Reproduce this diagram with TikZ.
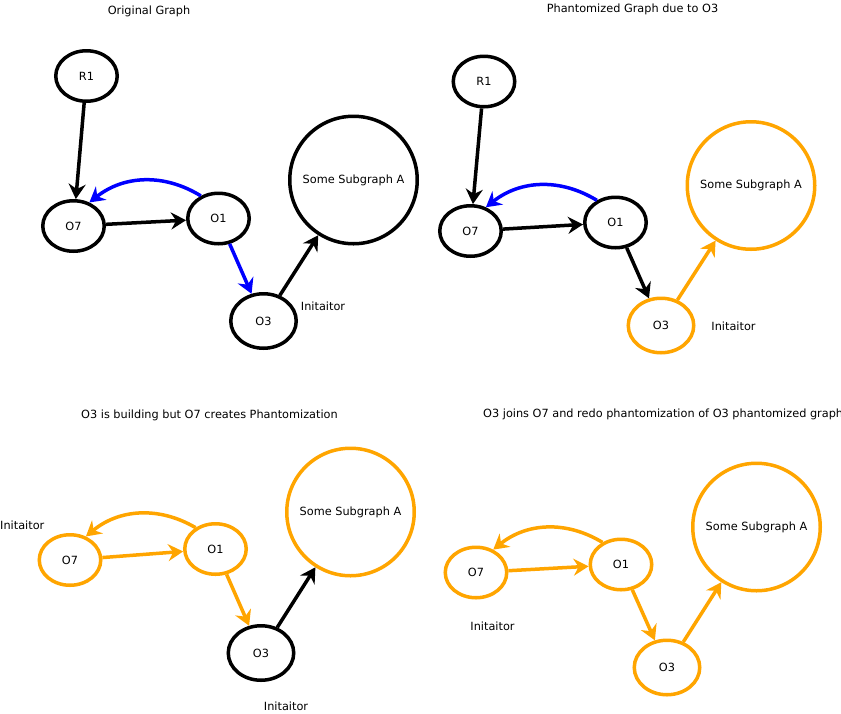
\documentclass[tikz,border=0pt]{standalone}
\usepackage{fontspec}
\setmainfont{DejaVu Sans}
\usetikzlibrary{arrows.meta,shapes.geometric}
\definecolor{phant}{HTML}{FFA500}
\definecolor{blu}{HTML}{0000FF}
\begin{document}
\begin{tikzpicture}[x=1pt,y=-1pt,
  every node/.style={font=\fontsize{11.3}{13}\selectfont, inner sep=0pt},
  op/.style={ellipse, draw, line width=3.5pt, minimum width=61.5pt, minimum height=50.5pt},
  opbig/.style={op, minimum width=65.5pt, minimum height=54.5pt},
  sub/.style={circle, draw, line width=3.5pt, minimum size=127.5pt},
  link/.style={line width=3.5pt, line join=miter,
    -{Stealth[length=15pt,width=17pt,inset=5pt]}},
  curv/.style={link, bend right=35},
  lbl/.style={}]
\clip (0,0) rectangle (841,713);
\fill[white] (0,0) rectangle (841,713);

% ---------- panel 1: original graph ----------
\node[lbl] (t1) at (149,11) {Original Graph};
\node[op] (a-r1) at (86.5,76) {R1};
\node[op] (a-o7) at (73.5,226) {O7};
\node[op] (a-o1) at (218.5,218.5) {O1};
\node[opbig] (a-o3) at (263.5,321) {O3};
\node[sub] (a-s) at (353.5,180) {Some Subgraph A};
\node[lbl] (a-i) at (323,306) {Initaitor};
\draw[link] (a-r1) -- (a-o7);
\draw[link] (a-o7) -- (a-o1);
\draw[link, blu] (a-o1) -- (a-o3);
\draw[link] (a-o3) -- (a-s);
\draw[curv, blu] (a-o1.128) to (a-o7.56);

% ---------- panel 2: phantomized graph ----------
\node[lbl] (t2) at (632.5,9) {Phantomized Graph due to O3};
\node[op] (b-r1) at (484,81.5) {R1};
\node[op] (b-o7) at (470.5,231) {O7};
\node[op] (b-o1) at (615.5,222.5) {O1};
\node[opbig, draw=phant] (b-o3) at (661,325.5) {O3};
\node[sub, draw=phant] (b-s) at (751,185.5) {Some Subgraph A};
\node[lbl] (b-i) at (733.5,326) {Initaitor};
\draw[link] (b-r1) -- (b-o7);
\draw[link] (b-o7) -- (b-o1);
\draw[link] (b-o1) -- (b-o3);
\draw[link, phant] (b-o3) -- (b-s);
\draw[curv, blu] (b-o1.130) to (b-o7.57);

% ---------- panel 3: O7 phantomizes while O3 builds ----------
\node[lbl] (t3) at (209.5,415) {O3 is building but O7 creates Phantomization};
\node[lbl, anchor=west] (c-i7) at (0,525) {Initaitor};
\node[op, draw=phant] (c-o7) at (70,560) {O7};
\node[op, draw=phant] (c-o1) at (215.5,549) {O1};
\node[opbig] (c-o3) at (261,653) {O3};
\node[sub, draw=phant] (c-s) at (350.5,512) {Some Subgraph A};
\node[lbl] (c-i3) at (286,706) {Initaitor};
\draw[link, phant] (c-o7) -- (c-o1);
\draw[link, phant] (c-o1) -- (c-o3);
\draw[link] (c-o3) -- (c-s);
\draw[curv, phant] (c-o1.133) to (c-o7.56);

% ---------- panel 4: O3 joins O7 ----------
\node[lbl, anchor=west] (t4) at (483,414) {O3 joins O7 and redo phantomization of O3 phantomized graph};
\node[op, draw=phant] (d-o7) at (476,572.5) {O7};
\node[op, draw=phant] (d-o1) at (621,564.5) {O1};
\node[opbig, draw=phant] (d-o3) at (667,667.5) {O3};
\node[sub, draw=phant] (d-s) at (756.5,527) {Some Subgraph A};
\node[lbl] (d-i) at (492.5,626) {Initaitor};
\draw[link, phant] (d-o7) -- (d-o1);
\draw[link, phant] (d-o1) -- (d-o3);
\draw[link, phant] (d-o3) -- (d-s);
\draw[curv, phant] (d-o1.130) to (d-o7.53);
\end{tikzpicture}
\end{document}
